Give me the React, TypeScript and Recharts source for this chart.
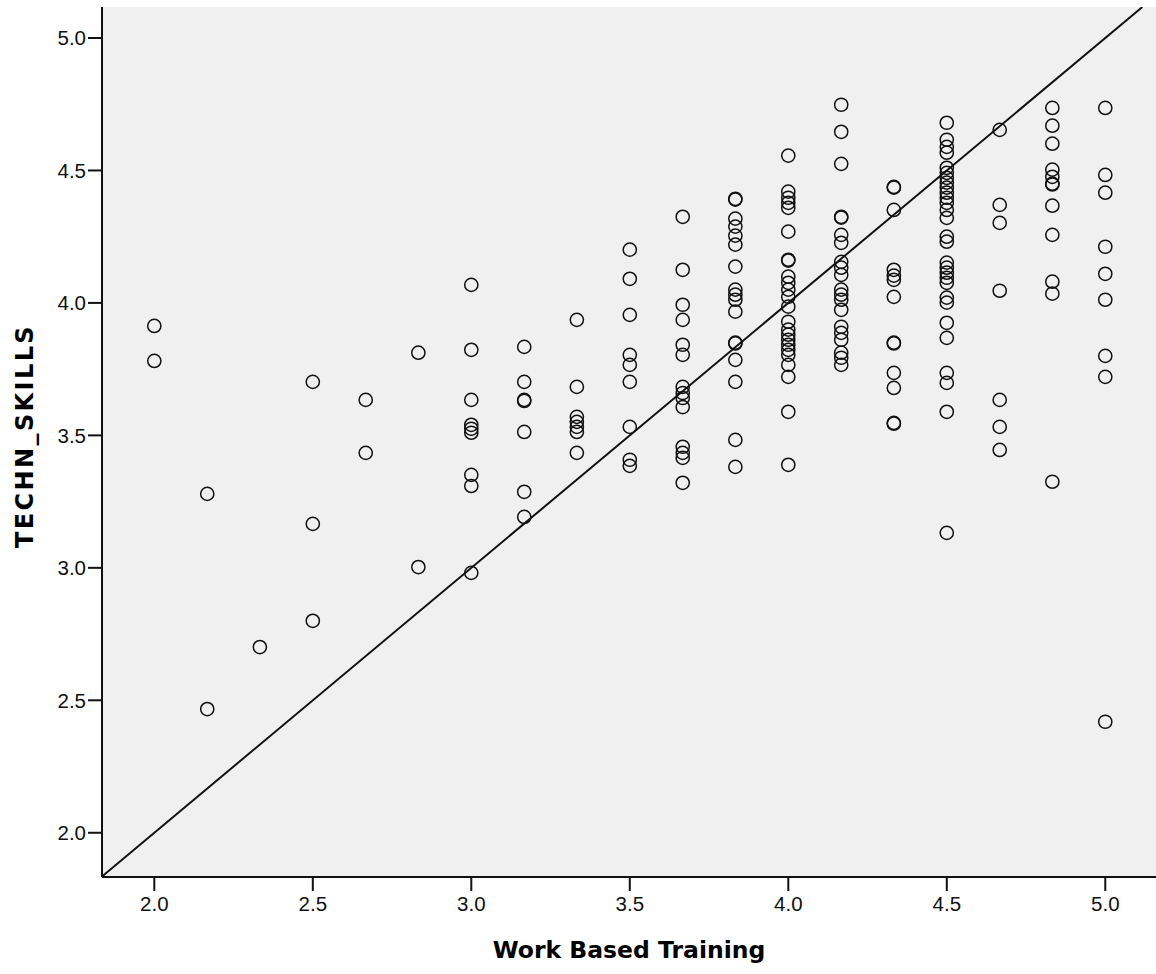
import React from "react"
import { ScatterChart, Scatter, XAxis, YAxis, CartesianGrid, ReferenceLine } from "recharts"

// Work Based Training score levels (sixths) and TECHN_SKILLS readings per level
const xLevels = [2, 2.167, 2.333, 2.5, 2.667, 2.833, 3, 3.167, 3.333, 3.5, 3.667, 3.833, 4, 4.167, 4.333, 4.5, 4.667, 4.833, 5]

const y200 = [3.913, 3.781]
const y217 = [3.279, 2.467]
const y233 = [2.701]
const y250 = [3.702, 3.166, 2.8]
const y267 = [3.634, 3.434]
const y283 = [3.812, 3.003]
const y300 = [4.068, 3.823, 3.634, 3.54, 3.525, 3.51, 3.351, 3.309, 2.981]
const y317 = [3.834, 3.702, 3.634, 3.63, 3.513, 3.287, 3.192]
const y333 = [3.936, 3.683, 3.57, 3.551, 3.532, 3.513, 3.434]
const y350 = [4.201, 4.091, 3.955, 3.804, 3.766, 3.702, 3.532, 3.408, 3.385]
const y367 = [4.325, 4.125, 3.993, 3.936, 3.842, 3.804, 3.683, 3.66, 3.641, 3.607, 3.457, 3.434, 3.415, 3.321]
const y383 = [4.393, 4.39, 4.318, 4.288, 4.254, 4.22, 4.137, 4.05, 4.031, 4.012, 3.967, 3.85, 3.847, 3.785, 3.702, 3.483, 3.381]
const y400 = [4.556, 4.42, 4.397, 4.378, 4.359, 4.269, 4.163, 4.16, 4.099, 4.076, 4.05, 4.023, 3.986, 3.929, 3.899, 3.88, 3.861, 3.842, 3.823, 3.804, 3.766, 3.721, 3.589, 3.389]
const y417 = [4.748, 4.646, 4.525, 4.325, 4.322, 4.257, 4.227, 4.155, 4.133, 4.106, 4.05, 4.031, 4.012, 3.974, 3.91, 3.887, 3.861, 3.812, 3.793, 3.766]
const y433 = [4.438, 4.435, 4.351, 4.125, 4.103, 4.087, 4.023, 3.85, 3.847, 3.736, 3.679, 3.547, 3.544]
const y450 = [4.68, 4.616, 4.589, 4.567, 4.51, 4.491, 4.472, 4.454, 4.435, 4.416, 4.397, 4.378, 4.351, 4.321, 4.25, 4.231, 4.152, 4.133, 4.114, 4.095, 4.076, 4.02, 4.001, 3.925, 3.868, 3.736, 3.698, 3.589, 3.132]
const y467 = [4.653, 4.37, 4.302, 4.046, 3.634, 3.532, 3.445]
const y483 = [4.736, 4.669, 4.601, 4.503, 4.476, 4.45, 4.447, 4.367, 4.257, 4.08, 4.035, 3.325]
const y500 = [4.736, 4.483, 4.416, 4.212, 4.11, 4.012, 3.8, 3.721, 2.419]

const columns = [y200, y217, y233, y250, y267, y283, y300, y317, y333, y350, y367, y383, y400, y417, y433, y450, y467, y483, y500]

const tickValues = [2.0, 2.5, 3.0, 3.5, 4.0, 4.5, 5.0]

const xDomain: [number, number] = [1.835, 5.16]
const yDomain: [number, number] = [1.833, 5.117]

const points = columns.flatMap((ys, i) => ys.map((y) => ({ x: xLevels[i], y })))

const font = "'Liberation Sans', Arial, sans-serif"
const titleFont = "'DejaVu Sans', 'Liberation Sans', sans-serif"

const Ring = (props: any) => (
  <circle cx={props.cx} cy={props.cy} r={6.6} fill="none" stroke="#111" strokeWidth={1.5} />
)

const XTitle = (props: any) => {
  const vb = props.viewBox
  return (
    <text x={vb.x + vb.width / 2} y={958} textAnchor="middle" fontFamily={titleFont} fontWeight="bold" fontSize={23.5} fill="#000">
      Work Based Training
    </text>
  )
}

const YTitle = () => (
  <text x={33} y={436} transform="rotate(-90 33 436)" textAnchor="middle" fontFamily={titleFont} fontWeight="bold" fontSize={24} letterSpacing={2.4} fill="#000">
    TECHN_SKILLS
  </text>
)

export default function App() {
  return (
    <div style={{ position: "absolute", left: 0, top: 0, width: 1156, height: 974, background: "#fff" }}>
      <ScatterChart width={1156} height={974} margin={{ top: 7, right: 0, left: 0, bottom: 0 }}>
        <CartesianGrid horizontal={false} vertical={false} fill="#f0f0f0" stroke="none" />
        <XAxis
          type="number"
          dataKey="x"
          domain={xDomain}
          ticks={tickValues}
          tickFormatter={(v: number) => v.toFixed(1)}
          allowDataOverflow
          height={97}
          tickSize={14}
          tickMargin={5}
          axisLine={{ stroke: "#111", strokeWidth: 2 }}
          tickLine={{ stroke: "#111", strokeWidth: 2 }}
          tick={{ fontSize: 20.5, fill: "#111", fontFamily: font }}
          label={{ content: XTitle }}
        />
        <YAxis
          type="number"
          dataKey="y"
          domain={yDomain}
          ticks={tickValues}
          tickFormatter={(v: number) => v.toFixed(1)}
          allowDataOverflow
          width={102}
          tickSize={14}
          tickMargin={2}
          axisLine={{ stroke: "#111", strokeWidth: 2 }}
          tickLine={{ stroke: "#111", strokeWidth: 2 }}
          tick={{ fontSize: 20.5, fill: "#111", fontFamily: font }}
          label={{ content: YTitle }}
        />
        <ReferenceLine
          segment={[{ x: yDomain[0], y: yDomain[0] }, { x: yDomain[1], y: yDomain[1] }]}
          stroke="#111"
          strokeWidth={2}
          ifOverflow="hidden"
        />
        <Scatter data={points} shape={Ring} isAnimationActive={false} />
      </ScatterChart>
    </div>
  )
}
